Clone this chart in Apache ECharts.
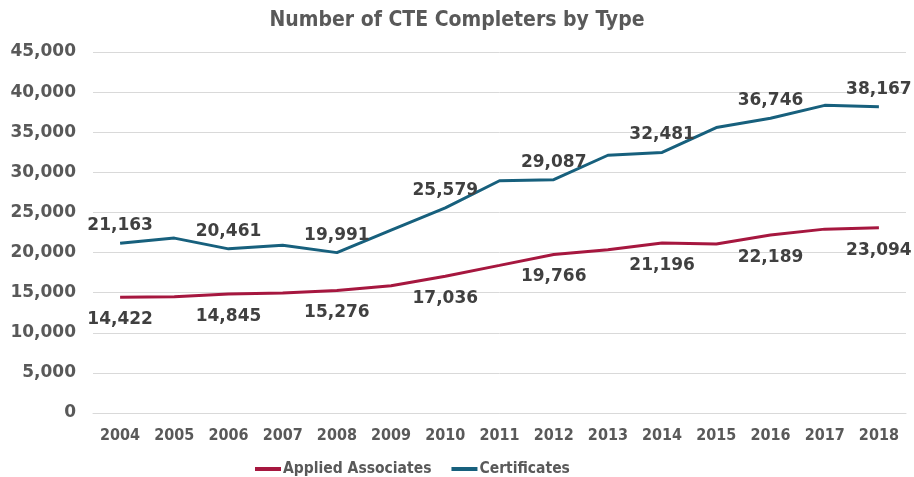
<!DOCTYPE html>
<html>
<head>
<meta charset="utf-8">
<script src="https://cdn.jsdelivr.net/npm/echarts@6/dist/echarts.min.js"></script>
<style>
  html, body { margin: 0; padding: 0; background: #fff; }
  #chart { width: 914px; height: 477px; }
</style>
</head>
<body>
<div id="chart"></div>
<script>
// data
var years = ['2004', '2005', '2006', '2007', '2008', '2009', '2010', '2011',
             '2012', '2013', '2014', '2015', '2016', '2017', '2018']
var appliedAssociates = [14422, 14480, 14845, 14950, 15276, 15850, 17036, 18400,
                         19766, 20350, 21196, 21070, 22189, 22920, 23094]
var certificates = [21163, 21800, 20461, 20900, 19991, 22800, 25579, 28950,
                    29087, 32130, 32481, 35580, 36746, 38350, 38167]

var fmt = function (v) { return Number(v).toLocaleString('en-US') }
// Only every other point carries a label
var everyOther = function (p) { return p.dataIndex % 2 === 0 ? fmt(p.value) : '' }

var labelFont = {
  color: '#404040',
  fontFamily: 'DejaVu Sans',
  fontWeight: 'bold',
  fontSize: 17
}

var chart = echarts.init(document.getElementById('chart'))
var options = {
  animation: false,
  title: {
    text: 'Number of CTE Completers by Type',
    left: 'center',
    top: 5,
    textStyle: {
      color: '#595959',
      fontFamily: 'DejaVu Sans Condensed',
      fontWeight: 'bold',
      fontSize: 21
    }
  },
  grid: {
    left: 93,
    right: 8,
    top: 52,
    bottom: 64
  },
  legend: {
    left: 250,
    top: 456,
    icon: 'rect',
    itemWidth: 26,
    itemHeight: 4,
    itemGap: 20,
    textStyle: {
      color: '#595959',
      fontFamily: 'DejaVu Sans Condensed',
      fontWeight: 'bold',
      fontSize: 15.5,
      padding: [0, 0, 0, -3]
    },
    data: ['Applied Associates', 'Certificates']
  },
  xAxis: {
    type: 'category',
    data: years,
    boundaryGap: true,
    axisTick: { show: false },
    axisLine: { lineStyle: { color: '#D9D9D9', width: 1 } },
    axisLabel: {
      margin: 15,
      color: '#595959',
      fontFamily: 'DejaVu Sans Condensed',
      fontWeight: 'bold',
      fontSize: 16
    }
  },
  yAxis: {
    type: 'value',
    min: 0,
    max: 45000,
    interval: 5000,
    axisLine: { show: false },
    axisTick: { show: false },
    splitLine: { lineStyle: { color: '#D9D9D9', width: 1 } },
    axisLabel: {
      margin: 17,
      color: '#595959',
      fontFamily: 'DejaVu Sans',
      fontWeight: 'bold',
      fontSize: 17,
      formatter: fmt
    }
  },
  series: [
    {
      name: 'Applied Associates',
      type: 'line',
      data: appliedAssociates,
      symbol: 'circle',
      symbolSize: 0,
      showSymbol: true,
      color: '#A6173F',
      lineStyle: { width: 3 },
      label: Object.assign({ show: true, position: 'bottom', distance: 14, formatter: everyOther }, labelFont)
    },
    {
      name: 'Certificates',
      type: 'line',
      data: certificates,
      symbol: 'circle',
      symbolSize: 0,
      showSymbol: true,
      color: '#17607D',
      lineStyle: { width: 3 },
      label: Object.assign({ show: true, position: 'top', distance: 9, formatter: everyOther }, labelFont)
    }
  ]
}
chart.setOption(options)
</script>
</body>
</html>
